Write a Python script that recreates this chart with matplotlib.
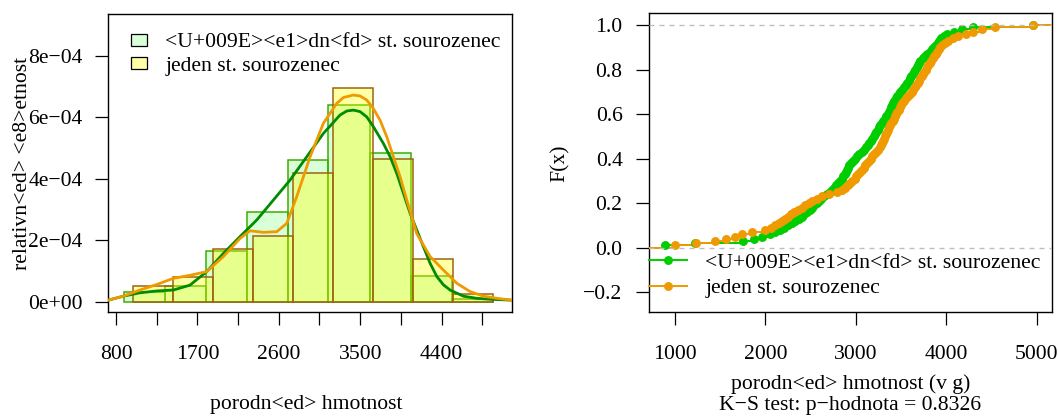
import numpy as np
import matplotlib
matplotlib.use("Agg")
import matplotlib.pyplot as plt
from matplotlib.patches import Patch
from matplotlib.lines import Line2D

plt.rcParams['font.family'] = ['Liberation Serif', 'DejaVu Serif']
FS = 15.6

# ---------------- data ----------------
label_none = "<U+009E><e1>dn<fd> st. sourozenec"
label_one = "jeden st. sourozenec"

# histogram (density) - group without sibling (green)
green_edges = [888, 1342, 1792, 2245, 2699, 3149, 3603, 4060, 4513, 4966]
green_dens = [0.30e-4, 0.52e-4, 1.65e-4, 2.91e-4, 4.61e-4, 6.40e-4, 4.84e-4, 0.84e-4, 0.09e-4]
# histogram (density) - one sibling (orange)
orange_edges = [984, 1434, 1876, 2319, 2761, 3203, 3646, 4088, 4531, 4973]
orange_dens = [0.50e-4, 0.82e-4, 1.73e-4, 2.13e-4, 4.18e-4, 6.96e-4, 4.66e-4, 1.40e-4, 0.25e-4]

# kernel density estimates
kde_green_x = [715, 881, 1065, 1250, 1434, 1618, 1803, 1987, 2171, 2356, 2540, 2724, 2909,
               3093, 3277, 3351, 3425, 3499, 3572, 3646, 3757, 3831, 3904, 3978, 4052, 4199,
               4273, 4347, 4420, 4494, 4641, 4789, 4936, 5175]
kde_green_y = [0.05e-4, 0.18e-4, 0.29e-4, 0.35e-4, 0.38e-4, 0.54e-4, 0.98e-4, 1.57e-4, 2.12e-4,
               2.66e-4, 3.31e-4, 3.96e-4, 4.72e-4, 5.48e-4, 6.08e-4, 6.21e-4, 6.24e-4, 6.19e-4,
               6.02e-4, 5.70e-4, 5.15e-4, 4.72e-4, 4.18e-4, 3.53e-4, 2.88e-4, 1.79e-4, 1.25e-4,
               0.82e-4, 0.55e-4, 0.38e-4, 0.18e-4, 0.11e-4, 0.08e-4, 0.05e-4]
kde_orange_x = [715, 881, 1065, 1250, 1434, 1618, 1803, 1987, 2171, 2282, 2430, 2577, 2688, 2798,
                2946, 3093, 3241, 3314, 3425, 3499, 3572, 3646, 3720, 3794, 3867, 3941, 4015,
                4070, 4125, 4273, 4420, 4568, 4715, 4863, 5010, 5175]
kde_orange_y = [0.05e-4, 0.18e-4, 0.38e-4, 0.56e-4, 0.76e-4, 0.86e-4, 0.98e-4, 1.47e-4, 2.06e-4,
                2.31e-4, 2.26e-4, 2.28e-4, 2.55e-4, 3.42e-4, 4.72e-4, 5.81e-4, 6.46e-4, 6.65e-4,
                6.73e-4, 6.70e-4, 6.57e-4, 6.29e-4, 5.91e-4, 5.37e-4, 4.72e-4, 4.07e-4, 3.31e-4,
                2.77e-4, 2.22e-4, 1.47e-4, 1.03e-4, 0.60e-4, 0.33e-4, 0.18e-4, 0.11e-4, 0.05e-4]

# birth weights (sorted samples) read from the ECDF
weights_none = [888, 1221, 1750, 1870, 1960, 2050, 2110, 2160, 2210, 2250,
                2290, 2330, 2370, 2400, 2430, 2460, 2490, 2515, 2540, 2565,
                2590, 2615, 2650, 2680, 2710, 2735, 2760, 2785, 2805, 2825,
                2845, 2862, 2875, 2888, 2900, 2912, 2925, 2948, 2966, 2990,
                3015, 3040, 3063, 3088, 3113, 3133, 3150, 3166, 3182, 3198,
                3212, 3227, 3241, 3256, 3270, 3287, 3303, 3320, 3336, 3350,
                3363, 3375, 3388, 3400, 3413, 3427, 3444, 3460, 3477, 3493,
                3513, 3533, 3553, 3571, 3585, 3600, 3614, 3628, 3643, 3657,
                3671, 3685, 3700, 3713, 3740, 3765, 3790, 3815, 3840, 3862,
                3885, 3905, 3925, 3945, 3978, 4010, 4090, 4170, 4300, 4960]
weights_one = [1000, 1230, 1440, 1560, 1660, 1740, 1850, 1990, 2060, 2110,
               2150, 2185, 2215, 2250, 2285, 2320, 2360, 2400, 2440, 2480,
               2520, 2570, 2630, 2700, 2790, 2850, 2880, 2910, 2940, 2960,
               2985, 3005, 3025, 3045, 3065, 3085, 3105, 3123, 3143, 3163,
               3183, 3203, 3223, 3243, 3262, 3276, 3290, 3302, 3313, 3323,
               3334, 3344, 3355, 3366, 3376, 3392, 3406, 3420, 3433, 3447,
               3460, 3472, 3484, 3496, 3515, 3537, 3558, 3580, 3600, 3620,
               3637, 3652, 3668, 3683, 3699, 3713, 3728, 3743, 3757, 3772,
               3787, 3802, 3817, 3832, 3849, 3866, 3883, 3900, 3917, 3933,
               3955, 3985, 4020, 4070, 4130, 4220, 4300, 4390, 4535, 4963]

hist_xticks = [800, 1250, 1700, 2150, 2600, 3050, 3500, 3950, 4400, 4850]
hist_xticklabels = ["800", "", "1700", "", "2600", "", "3500", "", "4400", ""]
hist_yticks = [0, 2e-4, 4e-4, 6e-4, 8e-4]
hist_yticklabels = ["0e+00", "2e\u221204", "4e\u221204", "6e\u221204", "8e\u221204"]
ecdf_xticks = [1000, 2000, 3000, 4000, 5000]
ecdf_yticks = [-0.2, 0.0, 0.2, 0.4, 0.6, 0.8, 1.0]
ecdf_yticklabels = ["\u22120.2", "0.0", "0.2", "0.4", "0.6", "0.8", "1.0"]

# ---------------- figure ----------------
W, H = 1058, 416
fig = plt.figure(figsize=(W / 100, H / 100), dpi=100)

def axes_px(l, t, r, b):
    return fig.add_axes([l / W, 1 - b / H, (r - l) / W, (b - t) / H])

ax1 = axes_px(108.3, 14, 511.7, 312.3)
ax2 = axes_px(649, 13.3, 1051.7, 312.3)

for ax in (ax1, ax2):
    for s in ax.spines.values():
        s.set_linewidth(1.0)
    ax.tick_params(direction='out', length=9.5, width=0.9, labelsize=FS, color='black')

# ---- left: histograms ----
g_fill = (0.0, 1.0, 0.0, 0.15)
o_fill = (1.0, 1.0, 0.0, 0.35)
ge = np.array(green_edges, float)
oe = np.array(orange_edges, float)
ax1.bar(ge[:-1], green_dens, width=np.diff(ge), align='edge', color=g_fill,
        edgecolor='#3DAE00', linewidth=1.1, zorder=2)
ax1.bar(oe[:-1], orange_dens, width=np.diff(oe), align='edge', color=o_fill,
        edgecolor='#9C6310', linewidth=1.1, zorder=3)
ax1.plot(kde_green_x, kde_green_y, color='#008B00', lw=2.0, zorder=4,
         solid_capstyle='round', solid_joinstyle='round')
ax1.plot(kde_orange_x, kde_orange_y, color='#EE9A00', lw=2.0, zorder=5,
         solid_capstyle='round', solid_joinstyle='round')

ax1.set_xlim(715, 5175)
ax1.set_ylim(-0.345e-4, 9.37e-4)
ax1.set_xticks(hist_xticks)
ax1.set_xticklabels(hist_xticklabels)
ax1.set_yticks(hist_yticks)
ax1.set_yticklabels(hist_yticklabels)
ax1.tick_params(axis='x', pad=14)
ax1.tick_params(axis='y', pad=9)
ax1.text(0.49, -0.31, "porodn<ed> hmotnost", transform=ax1.transAxes, ha='center',
         va='center', fontsize=FS)
ax1.text(-0.212, 0.5, "relativn<ed> <e8>etnost", transform=ax1.transAxes, ha='center',
         va='center', rotation=90, fontsize=FS)

h1 = [Patch(facecolor='#D9FFD9', edgecolor='black', linewidth=0.9),
      Patch(facecolor='#FFFFA6', edgecolor='black', linewidth=0.9)]
ax1.legend(h1, [label_none, label_one], loc='upper left', bbox_to_anchor=(0.056, 0.935),
           frameon=False, fontsize=FS, handlelength=0.74, handleheight=0.48,
           handletextpad=0.85, borderpad=0, borderaxespad=0, labelspacing=0.2)

# ---- right: ECDF ----
def ecdf_draw(ax, data, color):
    x = np.sort(np.asarray(data, float))
    n = len(x)
    F = np.arange(1, n + 1) / n
    xs = np.concatenate([[-1e5], x, [1e5]])
    Fs = np.concatenate([[0.0], F, [1.0]])
    for i in range(len(xs) - 1):
        ax.plot([xs[i], xs[i + 1]], [Fs[i], Fs[i]], color=color, lw=1.4, zorder=3)
    ax.plot(x, F, 'o', color=color, ms=5.4, mec=color, zorder=4)

ecdf_draw(ax2, weights_none, '#00CD00')
ecdf_draw(ax2, weights_one, '#EE9A00')
for yv in (0, 1):
    ax2.axhline(yv, color='#BEBEBE', lw=1.0, dashes=(3.6, 3.6), zorder=5)

ax2.set_xlim(712, 5166)
ax2.set_ylim(-0.29, 1.0525)
ax2.set_xticks(ecdf_xticks)
ax2.set_xticklabels([str(v) for v in ecdf_xticks])
ax2.set_yticks(ecdf_yticks)
ax2.set_yticklabels(ecdf_yticklabels)
ax2.tick_params(axis='x', pad=14)
ax2.tick_params(axis='y', pad=9.5)
ax2.text(0.5, -0.275, "porodn<ed> hmotnost (v g)\nK\u2212S test: p\u2212hodnota = 0.8326",
         transform=ax2.transAxes, ha='center', va='center', fontsize=FS, linespacing=1.15)
ax2.text(-0.221, 0.5, "F(x)", transform=ax2.transAxes, ha='center', va='center',
         rotation=90, fontsize=FS)

h2 = [Line2D([], [], color='#00CD00', lw=1.4, marker='o', ms=5.4),
      Line2D([], [], color='#EE9A00', lw=1.4, marker='o', ms=5.4)]
ax2.legend(h2, [label_none, label_one], loc='upper left', bbox_to_anchor=(0.0, 0.2),
           frameon=False, fontsize=FS, handlelength=1.75, handletextpad=0.85,
           borderpad=0, borderaxespad=0, labelspacing=0.25, numpoints=1)

fig.savefig("out.png", dpi=100)
